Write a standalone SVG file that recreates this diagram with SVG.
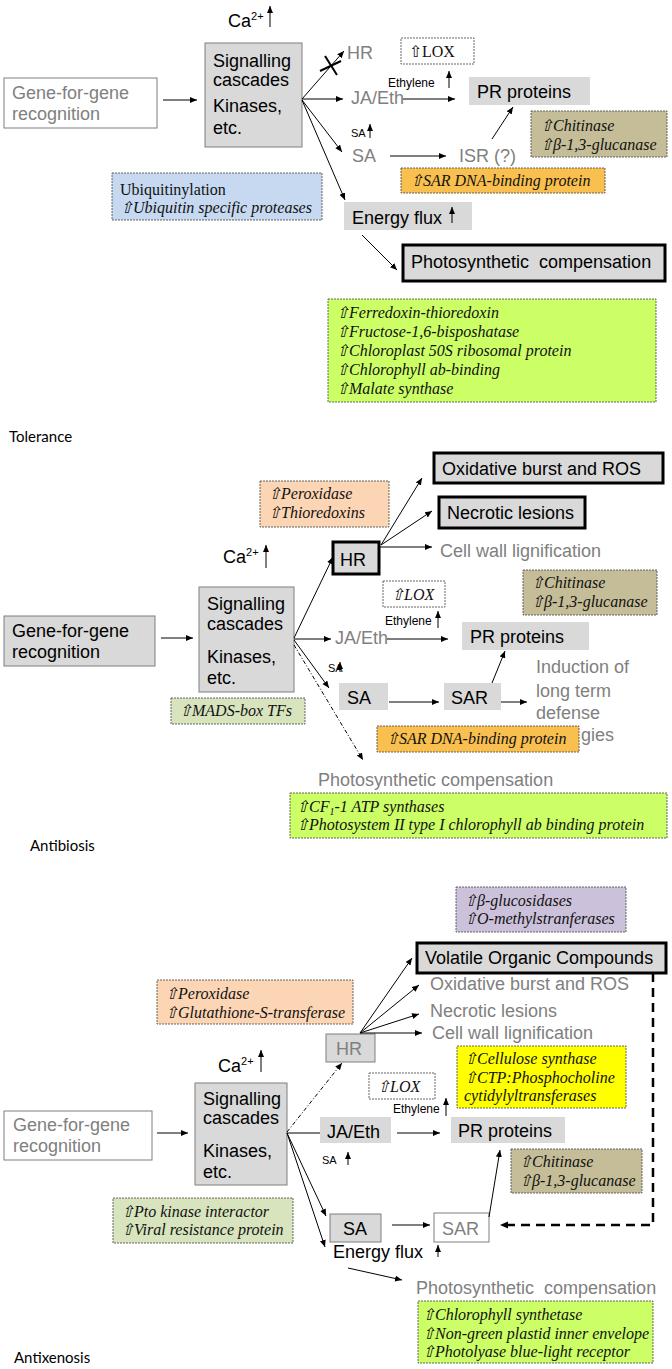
<svg xmlns="http://www.w3.org/2000/svg" width="672" height="1369" viewBox="0 0 672 1369">
<style>
.bg{fill:#fff}
.box{fill:#d9d9d9}
.boxs{fill:#d9d9d9;stroke:#7f7f7f;stroke-width:1}
.wbox{fill:#fff;stroke:#7f7f7f;stroke-width:1}
.thick{fill:#d9d9d9;stroke:#000;stroke-width:3}
.note{stroke:#555;stroke-width:0.9;stroke-dasharray:2,1}
.lox{fill:#fff}
.tan{fill:#c4bd97}
.orange{fill:#f9c04f}
.peach{fill:#fcd5b4}
.blue{fill:#c6d9f1}
.green{fill:#ccff66}
.olive{fill:#d7e4bd}
.purple{fill:#ccc1da}
.yellow{fill:#ffff00}
.t{font-family:"Liberation Sans",Arial,sans-serif;font-size:18px;fill:#000}
.g{fill:#808080}
.s{font-size:11px}
.e{font-size:12px}
.i{font-family:"Liberation Serif","Times New Roman",serif;font-style:italic;font-size:16px;fill:#111}
.r{font-family:"Liberation Serif","Times New Roman",serif;font-size:16px;fill:#111}
.lab{font-family:Lato,"Open Sans",sans-serif;font-size:15px;fill:#000}
.c{stroke:#000;stroke-width:1;fill:none}
.dd{stroke-dasharray:4,2,1,2}
.dash{stroke:#000;stroke-width:2.5;fill:none;stroke-dasharray:9,6}
</style>
<defs>
<marker id="ah" markerUnits="userSpaceOnUse" markerWidth="8" markerHeight="7" refX="7" refY="3" orient="auto">
<path d="M0,0 L7,3 L0,6 z" fill="#000"/>
</marker>
</defs>
<rect class="bg" x="0" y="0" width="672" height="1369"/>

<!-- ================= TOLERANCE ================= -->
<g id="tol-ca"><text class="t" x="228" y="27" font-size="17">Ca<tspan font-size="11" dy="-7">2+</tspan></text></g>
<g id="tol-sig"><rect class="boxs" x="205" y="43" width="97" height="104"/>
<text class="t" x="213" y="67">Signalling</text><text class="t" x="213" y="86">cascades</text>
<text class="t" x="213" y="112">Kinases,</text><text class="t" x="213" y="134">etc.</text></g>
<g id="tol-gfg"><rect class="wbox" x="4" y="78" width="153" height="50"/>
<text class="t g" x="12" y="99">Gene-for-gene</text><text class="t g" x="12" y="120">recognition</text></g>
<g id="tol-hr"><text class="t g" x="347" y="59">HR</text></g>
<g id="tol-jaeth"><text class="t g" x="351" y="104">JA/Eth</text></g>
<g id="tol-eth"><text class="t e" x="388" y="87">Ethylene</text></g>
<g id="tol-lox"><rect class="lox note" x="401" y="38" width="73" height="26"/><text class="r" x="409" y="57" font-size="17">⇧LOX</text></g>
<g id="tol-pr"><rect class="box" x="469" y="77" width="121" height="28"/><text class="t" x="477" y="98">PR proteins</text></g>
<g id="tol-chit"><rect class="tan note" x="531" y="111" width="136" height="46"/>
<text class="i" x="540" y="131">⇧Chitinase</text><text class="i" x="540" y="150">⇧β-1,3-glucanase</text></g>
<g id="tol-sasmall"><text class="t s" x="351" y="137">SA</text></g>
<g id="tol-sa"><text class="t g" x="352" y="162">SA</text></g>
<g id="tol-isr"><text class="t g" x="459" y="162">ISR (?)</text></g>
<g id="tol-sardna"><rect class="orange note" x="401" y="168" width="204" height="25"/><text class="i" x="410" y="186">⇧SAR DNA-binding protein</text></g>
<g id="tol-energy"><rect class="box" x="344" y="202" width="128" height="28"/><text class="t" x="352" y="224">Energy flux</text></g>
<g id="tol-photo"><rect class="thick" x="403" y="245" width="262" height="36"/><text class="t" x="411" y="268" xml:space="preserve">Photosynthetic  compensation</text></g>
<g id="tol-green"><rect class="green note" x="328" y="299" width="328" height="103"/>
<text class="i" x="336" y="318">⇧Ferredoxin-thioredoxin</text>
<text class="i" x="336" y="337">⇧Fructose-1,6-bisposhatase</text>
<text class="i" x="336" y="356">⇧Chloroplast 50S ribosomal protein</text>
<text class="i" x="336" y="375">⇧Chlorophyll ab-binding</text>
<text class="i" x="336" y="394">⇧Malate synthase</text></g>
<g id="tol-ubi"><rect class="blue note" x="112" y="173" width="210" height="47"/>
<text class="r" x="120" y="195">Ubiquitinylation</text><text class="i" x="120" y="213">⇧Ubiquitin specific proteases</text></g>
<g id="tol-label"><text class="lab" x="9" y="442">Tolerance</text></g>

<!-- ================= ANTIBIOSIS ================= -->
<g id="ab-perox"><rect class="peach note" x="260" y="481" width="129" height="46"/>
<text class="i" x="268" y="499">⇧Peroxidase</text><text class="i" x="268" y="518">⇧Thioredoxins</text></g>
<g id="ab-ca"><text class="t" x="223" y="563" font-size="17">Ca<tspan font-size="11" dy="-7">2+</tspan></text></g>
<g id="ab-sig"><rect class="boxs" x="199" y="587" width="95" height="105"/>
<text class="t" x="207" y="610">Signalling</text><text class="t" x="207" y="630">cascades</text>
<text class="t" x="207" y="663">Kinases,</text><text class="t" x="207" y="684">etc.</text></g>
<g id="ab-gfg"><rect class="boxs" x="4" y="616" width="151" height="50"/>
<text class="t" x="12" y="637">Gene-for-gene</text><text class="t" x="12" y="658">recognition</text></g>
<g id="ab-hr"><rect class="thick" x="333" y="542" width="46" height="32"/><text class="t" x="340" y="566">HR</text></g>
<g id="ab-ox"><rect class="thick" x="434" y="453" width="229" height="30"/><text class="t" x="442" y="475">Oxidative burst and ROS</text></g>
<g id="ab-nec"><rect class="thick" x="439" y="497" width="146" height="31"/><text class="t" x="447" y="519">Necrotic lesions</text></g>
<g id="ab-cw"><text class="t g" x="440" y="557">Cell wall lignification</text></g>
<g id="ab-chit"><rect class="tan note" x="523" y="570" width="134" height="45"/>
<text class="i" x="531" y="588">⇧Chitinase</text><text class="i" x="531" y="607">⇧β-1,3-glucanase</text></g>
<g id="ab-lox"><rect class="lox note" x="383" y="581" width="62" height="26"/><text class="i" x="391" y="600">⇧LOX</text></g>
<g id="ab-eth"><text class="t e" x="385" y="625">Ethylene</text></g>
<g id="ab-jaeth"><text class="t g" x="335" y="644">JA/Eth</text></g>
<g id="ab-pr"><rect class="box" x="462" y="622" width="127" height="28"/><text class="t" x="470" y="643">PR proteins</text></g>
<g id="ab-sasmall"><text class="t s" x="328" y="672">SA</text></g>
<g id="ab-sa"><rect class="box" x="339" y="683" width="49" height="27"/><text class="t" x="347" y="704">SA</text></g>
<g id="ab-sar"><rect class="box" x="444" y="683" width="57" height="27"/><text class="t" x="451" y="704">SAR</text></g>
<g id="ab-ind"><text class="t g" x="536" y="673">Induction of</text><text class="t g" x="536" y="697">long term</text>
<text class="t g" x="536" y="719">defense</text><text class="t g" x="581" y="741">gies</text></g>
<g id="ab-sardna"><rect class="orange note" x="377" y="726" width="202" height="26"/><text class="i" x="386" y="744">⇧SAR DNA-binding protein</text></g>
<g id="ab-mads"><rect class="olive note" x="171" y="698" width="134" height="26"/><text class="i" x="179" y="716">⇧MADS-box TFs</text></g>
<g id="ab-photo"><text class="t g" x="318" y="786">Photosynthetic compensation</text></g>
<g id="ab-green"><rect class="green note" x="290" y="793" width="377" height="45"/>
<text class="i" x="296" y="812">⇧CF<tspan font-size="10" dy="3">1</tspan><tspan dy="-3">-1 ATP synthases</tspan></text>
<text class="i" x="296" y="830">⇧Photosystem II type I chlorophyll ab binding protein</text></g>
<g id="ab-label"><text class="lab" x="30" y="851">Antibiosis</text></g>

<!-- ================= ANTIXENOSIS ================= -->
<g id="ax-purple"><rect class="purple note" x="456" y="887" width="170" height="45"/>
<text class="i" x="464" y="906">⇧β-glucosidases</text><text class="i" x="464" y="924">⇧O-methylstranferases</text></g>
<g id="ax-voc"><rect class="thick" x="417" y="943" width="249" height="30"/><text class="t" x="425" y="964">Volatile Organic Compounds</text></g>
<g id="ax-ox"><text class="t g" x="430" y="990">Oxidative burst and ROS</text></g>
<g id="ax-nec"><text class="t g" x="430" y="1017">Necrotic lesions</text></g>
<g id="ax-cw"><text class="t g" x="432" y="1039">Cell wall lignification</text></g>
<g id="ax-perox"><rect class="peach note" x="157" y="980" width="196" height="44"/>
<text class="i" x="165" y="999">⇧Peroxidase</text><text class="i" x="165" y="1018">⇧Glutathione-S-transferase</text></g>
<g id="ax-yellow"><rect class="yellow note" x="457" y="1046" width="169" height="62"/>
<text class="i" x="464" y="1064">⇧Cellulose synthase</text><text class="i" x="464" y="1083">⇧CTP:Phosphocholine</text>
<text class="i" x="464" y="1101">cytidylyltransferases</text></g>
<g id="ax-hr"><rect class="boxs" x="326" y="1034" width="49" height="28"/><text class="t g" x="336" y="1055">HR</text></g>
<g id="ax-ca"><text class="t" x="218" y="1072" font-size="17">Ca<tspan font-size="11" dy="-7">2+</tspan></text></g>
<g id="ax-sig"><rect class="boxs" x="195" y="1083" width="92" height="102"/>
<text class="t" x="203" y="1105">Signalling</text><text class="t" x="203" y="1124">cascades</text>
<text class="t" x="203" y="1157">Kinases,</text><text class="t" x="203" y="1178">etc.</text></g>
<g id="ax-gfg"><rect class="wbox" x="4" y="1111" width="148" height="49"/>
<text class="t g" x="13" y="1131">Gene-for-gene</text><text class="t g" x="13" y="1152">recognition</text></g>
<g id="ax-lox"><rect class="lox note" x="369" y="1073" width="66" height="26"/><text class="i" x="377" y="1092">⇧LOX</text></g>
<g id="ax-eth"><text class="t e" x="393" y="1113">Ethylene</text></g>
<g id="ax-jaeth"><rect class="box" x="320" y="1117" width="71" height="26"/><text class="t" x="327" y="1138">JA/Eth</text></g>
<g id="ax-pr"><rect class="box" x="451" y="1117" width="114" height="26"/><text class="t" x="458" y="1137">PR proteins</text></g>
<g id="ax-sasmall"><text class="t s" x="322" y="1164">SA</text></g>
<g id="ax-chit"><rect class="tan note" x="511" y="1149" width="131" height="44"/>
<text class="i" x="519" y="1167">⇧Chitinase</text><text class="i" x="519" y="1186">⇧β-1,3-glucanase</text></g>
<g id="ax-pto"><rect class="olive note" x="113" y="1198" width="180" height="45"/>
<text class="i" x="121" y="1217">⇧Pto kinase interactor</text><text class="i" x="121" y="1235">⇧Viral resistance protein</text></g>
<g id="ax-sa"><rect class="boxs" x="330" y="1214" width="51" height="28"/><text class="t" x="343" y="1235">SA</text></g>
<g id="ax-sar"><rect class="wbox" x="434" y="1213" width="55" height="29"/><text class="t g" x="442" y="1235">SAR</text></g>
<g id="ax-energy"><text class="t" x="333" y="1258">Energy flux</text></g>
<g id="ax-photo"><text class="t g" x="416" y="1294" xml:space="preserve">Photosynthetic  compensation</text></g>
<g id="ax-green"><rect class="green note" x="418" y="1301" width="235" height="62"/>
<text class="i" x="422" y="1320">⇧Chlorophyll synthetase</text>
<text class="i" x="422" y="1339">⇧Non-green plastid inner envelope</text>
<text class="i" x="422" y="1357">⇧Photolyase blue-light receptor</text></g>
<g id="ax-label"><text class="lab" x="14" y="1363">Antixenosis</text></g>

<!-- ================= CONNECTORS ================= -->
<g id="connectors">
<!-- tolerance -->
<line class="c" x1="270" y1="27" x2="270" y2="6" marker-end="url(#ah)"/>
<line class="c" x1="163" y1="100" x2="197" y2="100" marker-end="url(#ah)"/>
<line class="c" x1="302" y1="99" x2="344" y2="51" marker-end="url(#ah)"/>
<line x1="325" y1="56" x2="337" y2="75" stroke="#000" stroke-width="2"/>
<line x1="320" y1="71" x2="341" y2="61" stroke="#000" stroke-width="2"/>
<line class="c" x1="302" y1="99" x2="343" y2="99" marker-end="url(#ah)"/>
<line class="c" x1="403" y1="99" x2="455" y2="99" marker-end="url(#ah)"/>
<line class="c" x1="449" y1="88" x2="449" y2="71" marker-end="url(#ah)"/>
<line class="c" x1="302" y1="100" x2="342" y2="152" marker-end="url(#ah)"/>
<line class="c" x1="370" y1="138" x2="370" y2="124" marker-end="url(#ah)"/>
<line class="c" x1="390" y1="156" x2="446" y2="156" marker-end="url(#ah)"/>
<line class="c" x1="492" y1="139" x2="513" y2="107" marker-end="url(#ah)"/>
<line class="c" x1="302" y1="100" x2="345" y2="200" marker-end="url(#ah)"/>
<line class="c" x1="452" y1="223" x2="452" y2="207" marker-end="url(#ah)"/>
<line class="c" x1="362" y1="235" x2="397" y2="270" marker-end="url(#ah)"/>
<!-- antibiosis -->
<line class="c" x1="266" y1="568" x2="266" y2="545" marker-end="url(#ah)"/>
<line class="c" x1="161" y1="638" x2="193" y2="638" marker-end="url(#ah)"/>
<line class="c" x1="294" y1="638" x2="333" y2="557" marker-end="url(#ah)"/>
<line class="c" x1="381" y1="545" x2="422" y2="478" marker-end="url(#ah)"/>
<line class="c" x1="381" y1="545" x2="432" y2="511" marker-end="url(#ah)"/>
<line class="c" x1="379" y1="547" x2="432" y2="547" marker-end="url(#ah)"/>
<line class="c" x1="438" y1="628" x2="438" y2="611" marker-end="url(#ah)"/>
<line class="c" x1="294" y1="639" x2="331" y2="639" marker-end="url(#ah)"/>
<line class="c" x1="387" y1="639" x2="448" y2="639" marker-end="url(#ah)"/>
<line class="c" x1="340" y1="672" x2="340" y2="662" marker-end="url(#ah)"/>
<line class="c" x1="294" y1="640" x2="329" y2="688" marker-end="url(#ah)"/>
<line class="c dd" x1="294" y1="645" x2="363" y2="760" marker-end="url(#ah)"/>
<line class="c" x1="389" y1="702" x2="439" y2="702" marker-end="url(#ah)"/>
<line class="c" x1="501" y1="702" x2="527" y2="702" marker-end="url(#ah)"/>
<line class="c" x1="492" y1="683" x2="505" y2="651" marker-end="url(#ah)"/>
<!-- antixenosis -->
<line class="c" x1="261" y1="1072" x2="261" y2="1050" marker-end="url(#ah)"/>
<line class="c" x1="157" y1="1133" x2="188" y2="1133" marker-end="url(#ah)"/>
<line class="c dd" x1="287" y1="1132" x2="342" y2="1063" marker-end="url(#ah)"/>
<line class="c" x1="360" y1="1033" x2="412" y2="958" marker-end="url(#ah)"/>
<line class="c" x1="360" y1="1033" x2="419" y2="985" marker-end="url(#ah)"/>
<line class="c" x1="360" y1="1033" x2="419" y2="1014" marker-end="url(#ah)"/>
<line class="c" x1="360" y1="1033" x2="422" y2="1033" marker-end="url(#ah)"/>
<line class="c" x1="287" y1="1133" x2="320" y2="1133"/>
<line class="c" x1="397" y1="1133" x2="440" y2="1133" marker-end="url(#ah)"/>
<line class="c" x1="446" y1="1116" x2="446" y2="1098" marker-end="url(#ah)"/>
<line class="c" x1="348" y1="1165" x2="348" y2="1152" marker-end="url(#ah)"/>
<line class="c" x1="287" y1="1133" x2="326" y2="1216" marker-end="url(#ah)"/>
<line class="c" x1="287" y1="1133" x2="325" y2="1247" marker-end="url(#ah)"/>
<line class="c" x1="392" y1="1225" x2="430" y2="1225" marker-end="url(#ah)"/>
<line class="c" x1="489" y1="1217" x2="500" y2="1150" marker-end="url(#ah)"/>
<path class="dash" d="M653,973 V1225 H507"/>
<path d="M500,1225 L508,1221.5 L508,1228.5 z" fill="#000"/>
<line class="c" x1="438" y1="1257" x2="438" y2="1245" marker-end="url(#ah)"/>
<line class="c" x1="348" y1="1268" x2="402" y2="1280" marker-end="url(#ah)"/>
</g>
</svg>
